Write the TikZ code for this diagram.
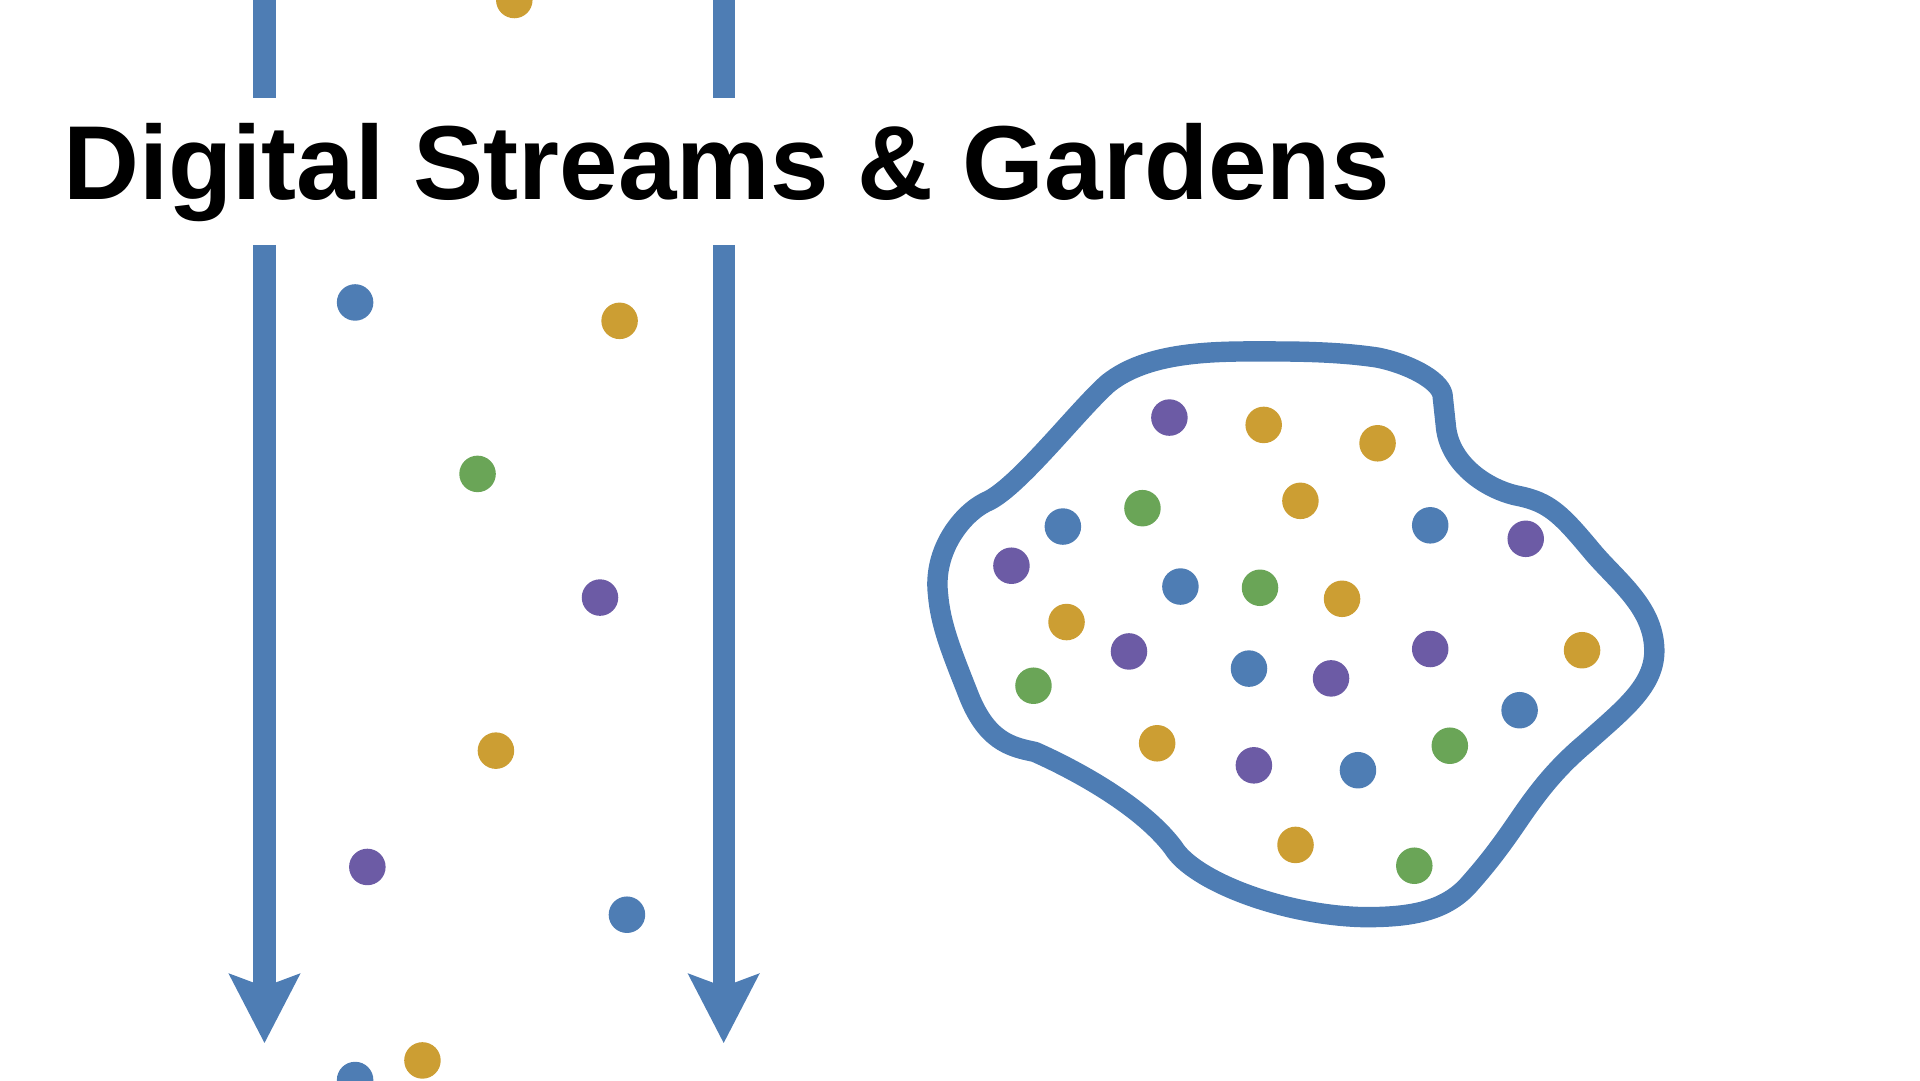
\documentclass[tikz,border=0pt]{standalone}
\usepackage{fontspec}
\setmainfont{Liberation Sans}
\usepackage{xcolor}
\usepackage{tikz}
\usetikzlibrary{arrows.meta, positioning}

\definecolor{streamblue}{HTML}{4E7DB4}
\definecolor{gold}{HTML}{CC9E33}
\definecolor{leafgreen}{HTML}{6AA557}
\definecolor{plum}{HTML}{6C5BA5}

\begin{document}
\begin{tikzpicture}[x=0.012245cm, y=-0.012245cm,
		dot/.style={circle, fill=#1, inner sep=0pt, minimum size=3.65mm},
		stream/.style={draw=streamblue, line width=6.3pt},
		flow/.style={stream, -{Stealth[length=6.85mm, width=6.9mm, inset=1.2mm]}},
		garden/.style={draw=streamblue, line width=5.8pt, line join=round}]
	\useasboundingbox (0,0) rectangle (1568,882);

	\node [anchor=base west, inner sep=0pt, font=\fontsize{29.9pt}{30pt}\selectfont\bfseries] (title) at (51,163) {Digital Streams \& Gardens};

	\coordinate (lt) at (216,0);
	\coordinate (lm) at (216,80);
	\coordinate (lb) at (216,200);
	\coordinate (la) at (216,852);
	\coordinate (rt) at (591,0);
	\coordinate (rm) at (591,80);
	\coordinate (rb) at (591,200);
	\coordinate (ra) at (591,852);
	\draw [stream] (lt) -- (lm);
	\draw [stream] (rt) -- (rm);
	\draw [flow] (lb) -- (la);
	\draw [flow] (rb) -- (ra);

	\node [dot=gold] (s0) at (420,0) {};
	\node [dot=streamblue] (s1) at (290,247) {};
	\node [dot=gold] (s2) at (506,262) {};
	\node [dot=leafgreen] (s3) at (390,387) {};
	\node [dot=plum] (s4) at (490,488) {};
	\node [dot=gold] (s5) at (405,613) {};
	\node [dot=plum] (s6) at (300,708) {};
	\node [dot=streamblue] (s7) at (512,747) {};
	\node [dot=gold] (s8) at (345,866) {};
	\node [dot=streamblue] (s9) at (290,882) {};

	\draw [garden] (1040,287)
		.. controls (1080,287) and (1105,289) .. (1125,292)
		.. controls (1150,297) and (1175,310) .. (1178,322)
		-- (1181,350)
		.. controls (1185,380) and (1215,400) .. (1240,405)
		.. controls (1265,410) and (1275,420) .. (1300,450)
		.. controls (1320,474) and (1350,495) .. (1351,530)
		.. controls (1352,560) and (1325,580) .. (1295,607)
		.. controls (1270,628) and (1255,648) .. (1240,670)
		.. controls (1225,692) and (1215,705) .. (1200,722)
		.. controls (1180,745) and (1150,749) .. (1115,749)
		.. controls (1050,748) and (975,720) .. (958,692)
		.. controls (930,655) and (870,625) .. (845,614)
		.. controls (825,610) and (805,605) .. (790,565)
		.. controls (777,532) and (768,510) .. (766,485)
		.. controls (762,450) and (785,420) .. (805,410)
		.. controls (830,400) and (880,335) .. (905,313)
		.. controls (940,285) and (1000,287) .. cycle;

	\node [dot=plum] (g1) at (955,341) {};
	\node [dot=gold] (g2) at (1032,347) {};
	\node [dot=gold] (g3) at (1125,362) {};
	\node [dot=leafgreen] (g4) at (933,415) {};
	\node [dot=gold] (g5) at (1062,409) {};
	\node [dot=streamblue] (g6) at (868,430) {};
	\node [dot=streamblue] (g7) at (1168,429) {};
	\node [dot=plum] (g8) at (1246,440) {};
	\node [dot=plum] (g9) at (826,462) {};
	\node [dot=streamblue] (g10) at (964,479) {};
	\node [dot=leafgreen] (g11) at (1029,480) {};
	\node [dot=gold] (g12) at (1096,489) {};
	\node [dot=gold] (g13) at (871,508) {};
	\node [dot=plum] (g14) at (922,532) {};
	\node [dot=plum] (g15) at (1168,530) {};
	\node [dot=gold] (g16) at (1292,531) {};
	\node [dot=streamblue] (g17) at (1020,546) {};
	\node [dot=plum] (g18) at (1087,554) {};
	\node [dot=leafgreen] (g19) at (844,560) {};
	\node [dot=streamblue] (g20) at (1241,580) {};
	\node [dot=gold] (g21) at (945,607) {};
	\node [dot=leafgreen] (g22) at (1184,609) {};
	\node [dot=plum] (g23) at (1024,625) {};
	\node [dot=streamblue] (g24) at (1109,629) {};
	\node [dot=gold] (g25) at (1058,690) {};
	\node [dot=leafgreen] (g26) at (1155,707) {};
\end{tikzpicture}
\end{document}
